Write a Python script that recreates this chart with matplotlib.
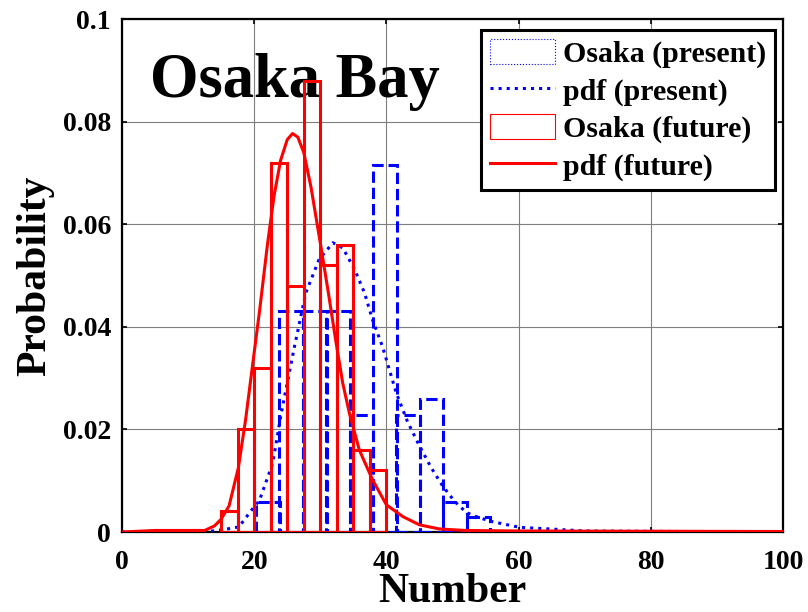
import matplotlib
matplotlib.use("Agg")
from matplotlib import pyplot as plt
from matplotlib.lines import Line2D
from matplotlib.patches import Patch

# histogram bins (left edge, density) for both periods
present_left = [20.3, 23.8, 27.4, 30.9, 34.5, 38.0, 41.5, 45.1, 48.6, 52.2]
present_width = 3.54
present_density = [0.0058, 0.043, 0.043, 0.043, 0.0229, 0.0716, 0.0229, 0.026, 0.0058, 0.0029]

future_left = [15.0, 17.5, 20.0, 22.5, 25.0, 27.5, 30.0, 32.5, 35.0, 37.5]
future_width = 2.5
future_density = [0.004, 0.020, 0.032, 0.072, 0.048, 0.088, 0.052, 0.056, 0.016, 0.012]

# fitted pdf curves
present_pdf_x = [0, 12, 13.7, 15.5, 17.7, 19.2, 20.8, 22.8, 24.0, 24.5, 26.1, 27.8, 29.8,
                 31.9, 33.4, 35.2, 36.7, 37.9, 39.4, 41.5, 43.2, 45.0, 46.8, 48.5, 50.3,
                 52.1, 54.0, 56.1, 60.2, 64.7, 70, 100]
present_pdf_y = [0, 0, 0.0002, 0.0005, 0.001, 0.0036, 0.0062, 0.0134, 0.0225, 0.0258,
                 0.0362, 0.0466, 0.0531, 0.0564, 0.0554, 0.0512, 0.0466, 0.0414, 0.0362,
                 0.0271, 0.0215, 0.0168, 0.0125, 0.009, 0.006, 0.0038, 0.0028, 0.002,
                 0.0009, 0.0006, 0.0002, 0]

future_pdf_x = [0, 5, 12.5, 14.0, 15.0, 16.2, 17.6, 18.7, 19.7, 20.8, 22.0, 23.0, 24.0,
                25.0, 25.8, 26.6, 27.5, 28.6, 30.1, 31.3, 32.4, 33.4, 34.4, 35.9, 37.9,
                40.0, 42.5, 45.0, 48, 52, 60, 100]
future_pdf_y = [0, 0.0003, 0.0003, 0.0012, 0.0025, 0.0051, 0.0125, 0.0219, 0.032, 0.043,
                0.056, 0.0655, 0.0725, 0.0765, 0.0777, 0.0770, 0.0740, 0.0672, 0.0556,
                0.046, 0.0368, 0.029, 0.0232, 0.016, 0.0102, 0.0053, 0.003, 0.0014,
                0.0006, 0.0003, 0.0002, 0.0001]

x_ticks = [0, 20, 40, 60, 80, 100]
y_ticks = [0, 0.02, 0.04, 0.06, 0.08, 0.1]
y_tick_labels = ["0", "0.02", "0.04", "0.06", "0.08", "0.1"]

plt.rcParams['font.family'] = ['Liberation Serif', 'DejaVu Serif']
plt.rcParams['font.weight'] = 'bold'

fig = plt.figure(figsize=(8.08, 6.12), dpi=100)
ax = fig.add_axes([0.151, 0.1307, 0.818, 0.838])

lw = 2.2
ax.bar(present_left, present_density, width=present_width, align='edge', fill=False,
       edgecolor='blue', linestyle='--', linewidth=lw, zorder=3)
ax.plot(present_pdf_x, present_pdf_y, color='blue', linestyle=':', linewidth=lw, zorder=4)
ax.bar(future_left, future_density, width=future_width, align='edge', fill=False,
       edgecolor='red', linestyle='-', linewidth=lw, zorder=5)
ax.plot(future_pdf_x, future_pdf_y, color='red', linestyle='-', linewidth=lw, zorder=6)

ax.text(0.043, 0.849, "Osaka Bay", transform=ax.transAxes, fontsize=45,
        fontweight='bold', va='baseline', ha='left', zorder=2)

ax.set_xlim(0, 100)
ax.set_ylim(0, 0.1)
ax.set_xticks(x_ticks)
ax.set_yticks(y_ticks)
ax.set_yticklabels(y_tick_labels)
ax.tick_params(direction='in', length=3.6, width=1.2, top=True, right=True,
               labelsize=20)
ax.tick_params(axis='x', pad=13)
ax.tick_params(axis='y', pad=8)
for lab in ax.get_xticklabels() + ax.get_yticklabels():
    lab.set_fontweight('bold')
for sp in ax.spines.values():
    sp.set_linewidth(1.6)
ax.grid(True, color='#7f7f7f', linewidth=0.8, linestyle='-', zorder=0)
ax.set_axisbelow(True)

ax.set_xlabel("Number", fontsize=30, fontweight='bold')
ax.xaxis.set_label_coords(0.5, -0.08)
ax.set_ylabel("Probability", fontsize=30, fontweight='bold', labelpad=6)

handles = [
    Patch(facecolor='white', edgecolor='blue', linestyle=':', linewidth=0.8),
    Line2D([], [], color='blue', linestyle=':', linewidth=lw),
    Patch(facecolor='white', edgecolor='red', linestyle='-', linewidth=0.8),
    Line2D([], [], color='red', linestyle='-', linewidth=lw),
]
labels = ["Osaka (present)", "pdf (present)", "Osaka (future)", "pdf (future)"]
leg = ax.legend(handles, labels, loc='upper right', bbox_to_anchor=(0.988, 0.978),
                borderaxespad=0, prop={'weight': 'bold', 'size': 21.5},
                fancybox=False, framealpha=1, edgecolor='black',
                handlelength=2.2, handleheight=0.9, handletextpad=0.25,
                labelspacing=0.28, borderpad=0.3)
leg.get_frame().set_linewidth(2.2)
leg.set_zorder(10)

fig.savefig("out.png", dpi=100)
